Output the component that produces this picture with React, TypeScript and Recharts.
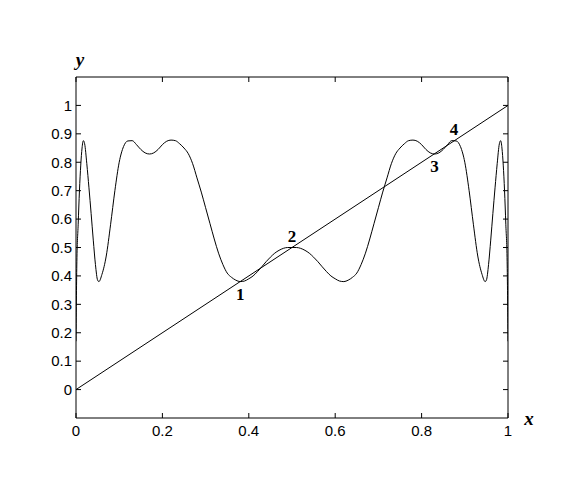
import { LineChart, Line, XAxis, YAxis, ReferenceDot } from "recharts";

// curve x positions and values
const curveX = [
  0, 0.002, 0.005, 0.008, 0.011, 0.014, 0.017, 0.02, 0.025, 0.03, 0.035, 0.04, 0.045, 0.05, 0.053,
  0.06, 0.07, 0.08, 0.09, 0.1, 0.11, 0.12, 0.13, 0.14, 0.15, 0.16, 0.17, 0.18, 0.19, 0.2,
  0.21, 0.22, 0.23, 0.24, 0.25, 0.26, 0.27, 0.28, 0.29, 0.3, 0.31, 0.32, 0.33, 0.34, 0.35,
  0.36, 0.37, 0.38, 0.39, 0.4, 0.41, 0.42, 0.43, 0.44, 0.45, 0.46, 0.47, 0.48, 0.49, 0.5,
  0.51, 0.52, 0.53, 0.54, 0.55, 0.56, 0.57, 0.58, 0.59, 0.6, 0.61, 0.62, 0.63, 0.64, 0.65,
  0.66, 0.67, 0.68, 0.69, 0.7, 0.71, 0.72, 0.73, 0.74, 0.75, 0.76, 0.77, 0.78, 0.79, 0.8,
  0.81, 0.82, 0.83, 0.84, 0.85, 0.86, 0.87, 0.88, 0.89, 0.9, 0.91, 0.92, 0.93, 0.94, 0.947,
  0.95, 0.955, 0.96, 0.965, 0.97, 0.975, 0.98, 0.983, 0.986, 0.989, 0.992, 0.995, 0.998, 1,
];
const curveY = [
  0.17, 0.45, 0.58, 0.7, 0.79, 0.85, 0.876, 0.865, 0.795, 0.71, 0.62, 0.526, 0.44, 0.385, 0.38,
  0.405, 0.47, 0.58, 0.7, 0.8, 0.855, 0.875, 0.876, 0.862, 0.845, 0.833, 0.829, 0.833, 0.845, 0.862,
  0.874, 0.878, 0.876, 0.865, 0.85, 0.83, 0.795, 0.745, 0.695, 0.64, 0.585, 0.53, 0.48, 0.44, 0.41,
  0.395, 0.385, 0.38, 0.382, 0.39, 0.4, 0.415, 0.432, 0.45, 0.466, 0.48, 0.49, 0.497, 0.5, 0.5,
  0.5, 0.497, 0.49, 0.48, 0.466, 0.45, 0.432, 0.415, 0.4, 0.39, 0.382, 0.38, 0.385, 0.395, 0.41,
  0.44, 0.48, 0.53, 0.585, 0.64, 0.695, 0.745, 0.795, 0.83, 0.85, 0.865, 0.876, 0.878, 0.874, 0.862,
  0.845, 0.833, 0.829, 0.833, 0.845, 0.862, 0.876, 0.875, 0.855, 0.8, 0.7, 0.58, 0.47, 0.405, 0.38,
  0.385, 0.44, 0.526, 0.62, 0.71, 0.795, 0.865, 0.876, 0.85, 0.79, 0.7, 0.58, 0.45, 0.17,
];
const diagX = [0, 1];
const diagY = [0, 1];

const xTicks = [0, 0.2, 0.4, 0.6, 0.8, 1];
const yTicks = [0, 0.1, 0.2, 0.3, 0.4, 0.5, 0.6, 0.7, 0.8, 0.9, 1];

const pointLabels = ["1", "2", "3", "4"];
const pointX = [0.38, 0.5, 0.83, 0.875];
const pointSide = ["bottom", "top", "bottom", "top"];

const curveData = curveX.map((x, i) => ({ x, y: curveY[i] }));
const diagData = diagX.map((x, i) => ({ x, y: diagY[i] }));

const sans = "'Liberation Sans', Arial, sans-serif";
const serif = "'Liberation Serif', 'Times New Roman', serif";
const tickFont = { fill: "#000", fontSize: 15, fontFamily: sans };
const blank = () => "";

export default function App() {
  return (
    <div style={{ position: "absolute", left: 0, top: 0, width: 568, height: 492, background: "#fff" }}>
      <LineChart
        width={568}
        height={492}
        margin={{ top: 76, right: 59, bottom: 44, left: 0 }}
        style={{ fontSize: 15, fontFamily: sans }}
      >
        <XAxis
          xAxisId="b"
          type="number"
          dataKey="x"
          domain={[0, 1]}
          ticks={xTicks}
          height={30}
          tickSize={-5}
          tickMargin={12}
          fontSize={15}
          axisLine={{ stroke: "#000" }}
          tickLine={{ stroke: "#000" }}
          tick={tickFont}
          allowDataOverflow
        />
        <XAxis
          xAxisId="t"
          orientation="top"
          type="number"
          dataKey="x"
          domain={[0, 1]}
          ticks={xTicks}
          height={1}
          tickSize={-5}
          tickFormatter={blank}
          axisLine={{ stroke: "#000" }}
          tickLine={{ stroke: "#000" }}
          allowDataOverflow
        />
        <YAxis
          yAxisId="l"
          type="number"
          domain={[-0.1, 1.1]}
          ticks={yTicks}
          width={76}
          tickSize={-5}
          tickMargin={9}
          fontSize={15}
          axisLine={{ stroke: "#000" }}
          tickLine={{ stroke: "#000" }}
          tick={tickFont}
          allowDataOverflow
        />
        <YAxis
          yAxisId="r"
          orientation="right"
          type="number"
          domain={[-0.1, 1.1]}
          ticks={yTicks}
          width={1}
          tickSize={-5}
          tickFormatter={blank}
          axisLine={{ stroke: "#000" }}
          tickLine={{ stroke: "#000" }}
          allowDataOverflow
        />
        <Line
          xAxisId="b"
          yAxisId="l"
          data={diagData}
          dataKey="y"
          type="linear"
          stroke="#000"
          strokeWidth={1}
          dot={false}
          isAnimationActive={false}
        />
        <Line
          xAxisId="b"
          yAxisId="l"
          data={curveData}
          dataKey="y"
          type="monotone"
          stroke="#000"
          strokeWidth={1}
          dot={false}
          isAnimationActive={false}
        />
        {pointLabels.map((lab, i) => (
          <ReferenceDot
            key={lab}
            xAxisId="b"
            yAxisId="l"
            x={pointX[i]}
            y={pointX[i]}
            r={0}
            stroke="none"
            label={{
              value: lab,
              position: pointSide[i] as "top" | "bottom",
              offset: 6,
              fill: "#000",
              fontSize: 17,
              fontWeight: "bold",
              fontFamily: serif,
            }}
          />
        ))}
      </LineChart>
      <svg width={568} height={492} style={{ position: "absolute", left: 0, top: 0, pointerEvents: "none" }}>
        <text x={80} y={66} textAnchor="middle" fontSize={19} fontStyle="italic" fontWeight="bold" fontFamily={serif}>
          y
        </text>
        <text x={529} y={425} textAnchor="middle" fontSize={19} fontStyle="italic" fontWeight="bold" fontFamily={serif}>
          x
        </text>
      </svg>
    </div>
  );
}
